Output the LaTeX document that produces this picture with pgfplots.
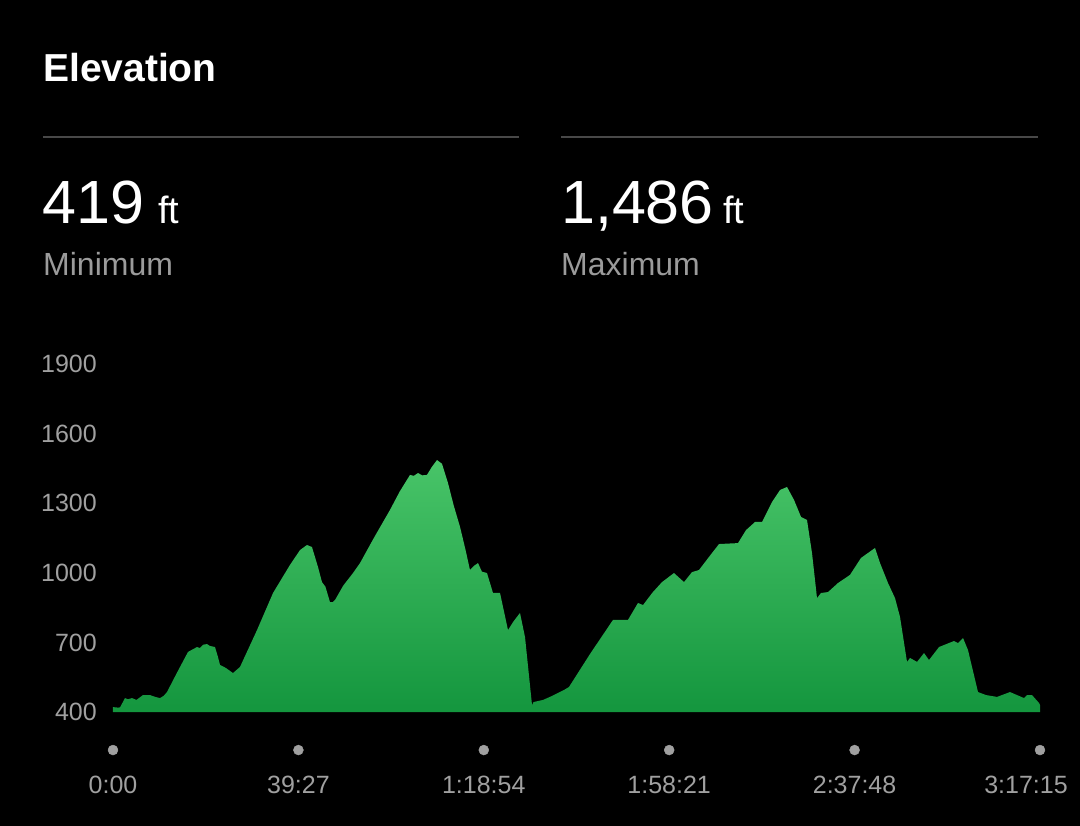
\documentclass[border=0pt]{standalone}
\usepackage{pgfplots}
\pgfplotsset{compat=1.18}
\usepackage{pgfplotstable}
\usepackage{fontspec}
\setmainfont{Liberation Sans}
\definecolor{topgreen}{RGB}{72,196,104}
\definecolor{botgreen}{RGB}{20,150,62}
\definecolor{ticklab}{RGB}{160,160,160}
\definecolor{sublab}{RGB}{155,155,155}
\definecolor{rule}{RGB}{72,72,72}
\pgfplotstableread{
t e
0.00 400
0.00 421
1.06 419
1.50 420
2.55 460
3.20 455
4.04 460
5.00 452
6.38 473
7.87 473
9.00 465
10.00 460
10.80 470
11.49 486
13.50 565
15.96 659
17.87 680
18.50 676
19.20 690
20.00 693
20.60 685
21.70 680
22.30 640
22.77 603
24.00 590
25.53 568
27.02 594
30.64 753
34.05 913
37.66 1034
39.79 1098
41.28 1120
42.34 1111
43.62 1025
44.47 960
45.20 940
46.17 874
46.81 874
47.30 885
49.00 945
51.07 999
52.56 1042
55.50 1150
58.94 1271
61.00 1350
63.20 1422
64.00 1418
64.90 1430
65.80 1420
66.81 1422
67.80 1455
68.94 1486
70.00 1470
71.28 1387
72.50 1290
73.84 1198
75.00 1100
75.96 1012
76.80 1030
77.67 1042
78.50 1005
79.58 999
80.86 913
82.35 913
84.05 753
85.20 790
86.60 827
87.67 723
89.16 430
89.48 443
91.50 452
93.50 470
95.97 495
97.03 508
101.50 650
106.39 797
109.58 797
111.71 870
112.78 861
114.80 915
116.82 960
119.37 999
121.50 960
123.20 1003
124.69 1012
126.80 1068
128.95 1124
132.99 1128
134.69 1184
136.61 1219
138.10 1219
140.22 1305
141.93 1357
143.42 1370
144.91 1314
146.40 1241
147.67 1228
148.74 1085
149.80 891
150.65 913
152.14 917
154.27 956
156.82 991
159.16 1064
162.14 1107
163.21 1042
164.91 956
166.40 891
167.46 810
168.95 616
169.59 633
171.08 616
172.57 654
173.63 624
175.76 680
178.95 706
179.80 697
180.87 719
181.93 667
184.06 486
185.76 473
188.10 465
190.87 486
192.36 473
193.85 460
194.49 473
195.55 473
197.04 439
197.25 430
197.25 400
}\elev
\begin{document}
\begin{tikzpicture}[x=1pt,y=1pt]
\fill[black] (0,0) rectangle (1080,-826);
% header
\node[anchor=base west, inner sep=0pt, text=white, font=\fontsize{39}{39}\selectfont\bfseries] at (43,-82) {Elevation};
\draw[rule, line width=2pt] (43,-137) -- (519,-137);
\draw[rule, line width=2pt] (561,-137) -- (1038,-137);
\node[anchor=base west, inner sep=0pt, text=white, font=\fontsize{61}{61}\selectfont] at (42,-224) {419};
\node[anchor=base west, inner sep=0pt, text=white, font=\fontsize{38}{38}\selectfont] at (158,-224) {ft};
\node[anchor=base west, inner sep=0pt, text=sublab, font=\fontsize{32}{32}\selectfont] at (43,-276) {Minimum};
\node[anchor=base west, inner sep=0pt, text=white, font=\fontsize{61}{61}\selectfont] at (561,-224) {1,486};
\node[anchor=base west, inner sep=0pt, text=white, font=\fontsize{38}{38}\selectfont] at (723,-224) {ft};
\node[anchor=base west, inner sep=0pt, text=sublab, font=\fontsize{32}{32}\selectfont] at (561,-276) {Maximum};
\begin{axis}[
  at={(113pt,-712pt)}, anchor=south west,
  scale only axis, width=927pt, height=348pt,
  xmin=0, xmax=197.25, ymin=400, ymax=1900,
  axis line style={draw=none},
  major tick length=0pt,
  clip=false,
  ytick={400,700,1000,1300,1600,1900},
  xtick={0,39.45,78.9,118.35,157.8},
  xticklabels={0:00,39:27,1:18:54,1:58:21,2:37:48},
  extra x ticks={197.25},
  extra x tick labels={3:17:15},
  extra x tick style={xticklabel style={xshift=-14pt}},
  /pgf/number format/assume math mode=true,
  /pgf/number format/1000 sep={},
  tick label style={text=ticklab, font=\fontsize{25}{25}\selectfont, inner sep=0pt},
  yticklabel style={anchor=east, xshift=-16pt},
  xticklabel style={anchor=base, yshift=-81pt},
]
\addplot[draw=none, top color=topgreen, bottom color=botgreen] table[x=t,y=e] {\elev} -- cycle;
\addplot[only marks, mark=*, mark size=5pt, color=ticklab] coordinates {(0,236) (39.45,236) (78.9,236) (118.35,236) (157.8,236) (197.25,236)};
\end{axis}
\end{tikzpicture}
\end{document}
